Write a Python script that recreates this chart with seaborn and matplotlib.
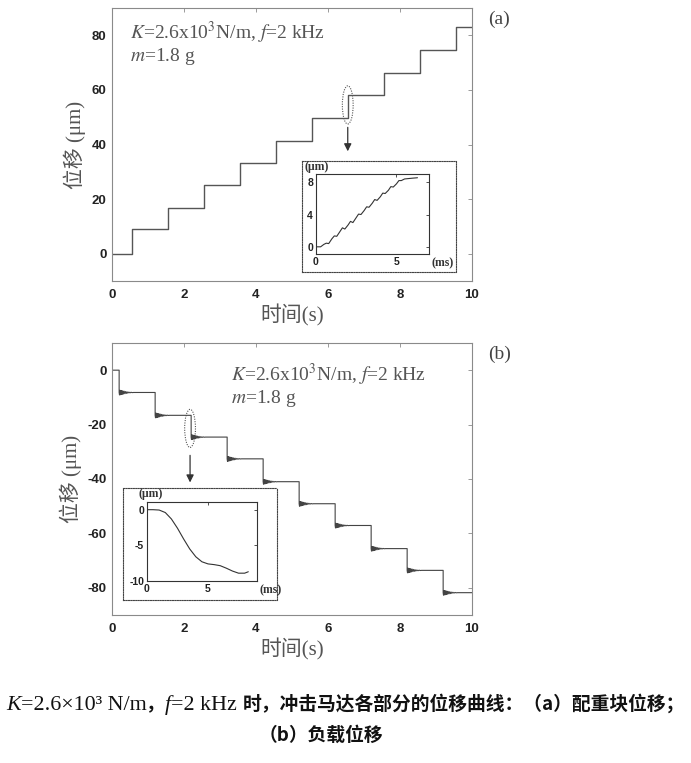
import numpy as np
import pandas as pd
import matplotlib
matplotlib.use('Agg')
import matplotlib.pyplot as plt
from matplotlib.patches import Ellipse
from matplotlib.font_manager import FontProperties
import seaborn as sns

# data
# (a) counterweight displacement, steps in um
a_step_t = [0.55, 1.55, 2.55, 3.55, 4.55, 5.55, 6.55, 7.55, 8.55, 9.57]
a_levels = [0, 8.9, 16.9, 25.1, 33.3, 41.4, 49.8, 58.3, 66.1, 74.8, 83.1]
# (b) load displacement, steps in um
b_step_t = [0.2, 1.2, 2.2, 3.2, 4.2, 5.2, 6.2, 7.2, 8.2, 9.2]
b_levels = [0, -8.2, -16.6, -24.6, -32.6, -41.0, -49.1, -57.1, -65.6, -73.6, -81.8]
# ringing after each drop in (b): time after drop (s), offset (um)
ring_dt = [0.01, 0.02, 0.03, 0.045, 0.06, 0.075, 0.09, 0.105, 0.12, 0.14,
           0.16, 0.18, 0.2, 0.22, 0.24, 0.27, 0.3, 0.33, 0.36, 0.4]
ring_off = [-0.9, 0.8, -0.85, 0.75, -0.75, 0.65, -0.65, 0.55, -0.55, 0.45,
            -0.45, 0.35, -0.35, 0.25, -0.25, 0.15, -0.15, 0.08, -0.05, 0.0]

# inset (a), one step zoomed, ms / um
ia_t = [0, 0.3, 0.5, 0.65, 0.8, 1.0, 1.15, 1.3, 1.5, 1.65, 1.8, 2.0, 2.15, 2.3,
        2.5, 2.65, 2.8, 3.0, 3.15, 3.3, 3.5, 3.65, 3.8, 4.0, 4.15, 4.3, 4.5,
        4.65, 4.8, 5.0, 5.15, 5.3, 5.5, 6.0, 6.3]
ia_y = [0, 0, 0.3, 0.45, 0.4, 1.0, 1.35, 1.3, 1.9, 2.35, 2.2, 2.7, 3.15, 3.0,
        3.6, 4.05, 4.0, 4.5, 4.95, 4.9, 5.4, 5.85, 5.75, 6.2, 6.65, 6.6, 7.0,
        7.45, 7.4, 7.8, 8.2, 8.2, 8.4, 8.5, 8.55]
# inset (b), one step zoomed, ms / um
ib_t = [0, 0.5, 1.0, 1.5, 2.0, 2.5, 3.0, 3.5, 4.0, 4.5, 5.0, 5.5, 6.0, 6.5,
        7.0, 7.5, 8.0, 8.3]
ib_y = [0, 0, -0.05, -0.4, -1.3, -2.6, -4.1, -5.5, -6.6, -7.3, -7.6, -7.7,
        -7.85, -8.2, -8.6, -8.9, -8.9, -8.7]

def step_path(times, levels, ring=False):
    xs, ys = [0.0], [levels[0]]
    for i, t in enumerate(times):
        xs += [t, t]
        ys += [levels[i], levels[i + 1]]
        if ring:
            for dt, off in zip(ring_dt, ring_off):
                xs.append(t + dt)
                ys.append(levels[i + 1] + off)
    xs.append(10.0)
    ys.append(levels[-1])
    return pd.DataFrame({'t': xs, 'd': ys})

sns.set_style('white')
plt.rcParams['mathtext.fontset'] = 'stix'
plt.rcParams['font.family'] = ['Liberation Serif', 'Noto Sans CJK SC']
plt.rcParams['xtick.direction'] = 'in'
plt.rcParams['ytick.direction'] = 'in'
plt.rcParams['axes.unicode_minus'] = False

fig = plt.figure(figsize=(6.91, 7.63), dpi=100)
edge = '#8a8a8a'
lab_color = '#555555'

def style_main(ax, yticks):
    ax.set_xlim(0, 10)
    ax.set_xticks([0, 2, 4, 6, 8, 10])
    ax.set_yticks(yticks)
    ax.tick_params(top=True, right=True, length=3, color=edge, width=0.6,
                   colors='#222222')
    ax.tick_params(axis='y', pad=4)
    ax.tick_params(axis='x', pad=6)
    for lb in ax.get_xticklabels() + ax.get_yticklabels():
        lb.set_fontproperties(FontProperties(family='Liberation Sans',
                                             weight='bold', size=9.5))
    for s in ax.spines.values():
        s.set_color(edge)
        s.set_linewidth(0.8)
    ax.set_xlabel('时间(s)', fontsize=15, color=lab_color, labelpad=2)
    ax.set_ylabel('位移 (μm)', fontsize=15, color=lab_color, labelpad=4)

def style_inset(ax, xlim, ylim, yticks, ulab_x):
    ax.set_xlim(*xlim)
    ax.set_ylim(*ylim)
    ax.set_xticks([0, 5])
    ax.set_yticks(yticks)
    ax.tick_params(top=True, right=True, length=2.5, color='#333333', width=0.6,
                   colors='#222222', pad=2)
    for lb in ax.get_xticklabels() + ax.get_yticklabels():
        lb.set_fontproperties(FontProperties(family='Liberation Sans',
                                             weight='bold', size=7.5))
    for s in ax.spines.values():
        s.set_color('#333333')
        s.set_linewidth(0.8)
    ax.set_xlabel('')
    ax.set_ylabel('')
    ax.text(ulab_x, 1.02, '(μm)', transform=ax.transAxes, fontsize=8.5,
            weight='bold', color='#333333', ha='left', va='bottom')
    ax.text(1.02, -0.04, '(ms)', transform=ax.transAxes, fontsize=8.5,
            weight='bold', color='#333333', ha='left', va='top')

def dotted_box(rect):
    bx = fig.add_axes(rect)
    bx.set_xticks([])
    bx.set_yticks([])
    bx.patch.set_alpha(0)
    for s in bx.spines.values():
        s.set_linestyle((0, (1, 1.2)))
        s.set_color('#444444')
        s.set_linewidth(0.8)
    return bx

line1 = r'$K$=2.6x10$^{3}$N/m, $f$=2 kHz'
line2 = r'$m$=1.8 g'

# ---- (a)
ax1 = fig.add_axes([0.162, 0.6317, 0.521, 0.3578])
sns.lineplot(data=step_path(a_step_t, a_levels), x='t', y='d', ax=ax1,
             sort=False, estimator=None, color='#555555', lw=1.0)
ax1.set_ylim(-10, 90)
style_main(ax1, [0, 20, 40, 60, 80])
ax1.text(0.5, 78.5, line1, fontsize=14, color=lab_color, va='baseline')
ax1.text(0.5, 70.5, line2, fontsize=14, color=lab_color, va='baseline')
ax1.add_patch(Ellipse((6.55, 54.5), 0.3, 14, fill=False, ls=(0, (1, 1.2)),
                      lw=0.8, color='#555555'))
ax1.annotate('', xy=(6.55, 36.5), xytext=(6.55, 47.3),
             arrowprops=dict(arrowstyle='-|>', color='#333333', lw=0.9,
                             mutation_scale=11))
fig.text(0.707, 0.974, '(a)', fontsize=14, color='#444444', va='center')

dotted_box([0.437, 0.6435, 0.223, 0.1455])
ia = fig.add_axes([0.457, 0.667, 0.1635, 0.1048])
sns.lineplot(x=ia_t, y=ia_y, ax=ia, sort=False, estimator=None,
             color='#333333', lw=0.8)
style_inset(ia, (0, 7), (-0.9, 9), [0, 4, 8], -0.1)

# ---- (b)
ax2 = fig.add_axes([0.162, 0.194, 0.521, 0.3565])
sns.lineplot(data=step_path(b_step_t, b_levels, ring=True), x='t', y='d',
             ax=ax2, sort=False, estimator=None, color='#444444', lw=0.8)
ax2.set_ylim(-90, 10)
style_main(ax2, [0, -20, -40, -60, -80])
ax2.text(3.3, -4.2, line1, fontsize=14, color=lab_color, va='baseline')
ax2.text(3.3, -12.0, line2, fontsize=14, color=lab_color, va='baseline')
ax2.add_patch(Ellipse((2.17, -21.4), 0.3, 14, fill=False, ls=(0, (1, 1.2)),
                      lw=0.8, color='#555555'))
ax2.annotate('', xy=(2.17, -42.3), xytext=(2.17, -30.3),
             arrowprops=dict(arrowstyle='-|>', color='#333333', lw=0.9,
                             mutation_scale=11))
fig.text(0.707, 0.535, '(b)', fontsize=14, color='#444444', va='center')

dotted_box([0.178, 0.2136, 0.223, 0.1468])
ib = fig.add_axes([0.2127, 0.2385, 0.159, 0.1035])
sns.lineplot(x=ib_t, y=ib_y, ax=ib, sort=False, estimator=None,
             color='#333333', lw=0.8)
style_inset(ib, (0, 9), (-10, 1.07), [0, -5, -10], -0.08)

# ---- caption, built from pieces so K and f can be italic
serif = ['Liberation Serif']
cjk = ['Noto Sans CJK SC']
cap_pieces = [('K', 'italic', serif, 17, 'normal'),
              ('=2.6×10³ N/m', 'normal', serif, 17, 'normal'),
              ('，', 'normal', cjk, 14.5, 'bold'),
              ('f', 'italic', serif, 17, 'normal'),
              ('=2 kHz ', 'normal', serif, 17, 'normal'),
              ('时，冲击马达各部分的位移曲线：（a）配重块位移；', 'normal', cjk,
               14.5, 'bold')]
renderer = fig.canvas.get_renderer()
cap_y = 1 - 710 / 763
texts = []
for s, st, fam, fs, wt in cap_pieces:
    t = fig.text(0, cap_y, s, fontsize=fs, style=st, weight=wt, family=fam,
                 color='#111111', va='baseline', ha='left')
    texts.append(t)
# shrink the caption line so it spans about 680 px like the reference
widths = [t.get_window_extent(renderer).width for t in texts]
scale = 678 / sum(widths)
for t in texts:
    t.set_fontsize(t.get_fontsize() * scale)
widths = [t.get_window_extent(renderer).width for t in texts]
x0 = (fig.bbox.width - sum(widths)) / 2
for t, w in zip(texts, widths):
    t.set_x(x0 / fig.bbox.width)
    x0 += w
cjk_size = 14.5 * scale
fig.text(321 / 691, 1 - 741 / 763, '（b）负载位移', ha='center', va='baseline',
         fontsize=cjk_size, weight='bold', family=cjk, color='#111111')

fig.savefig('out.png', dpi=100)
